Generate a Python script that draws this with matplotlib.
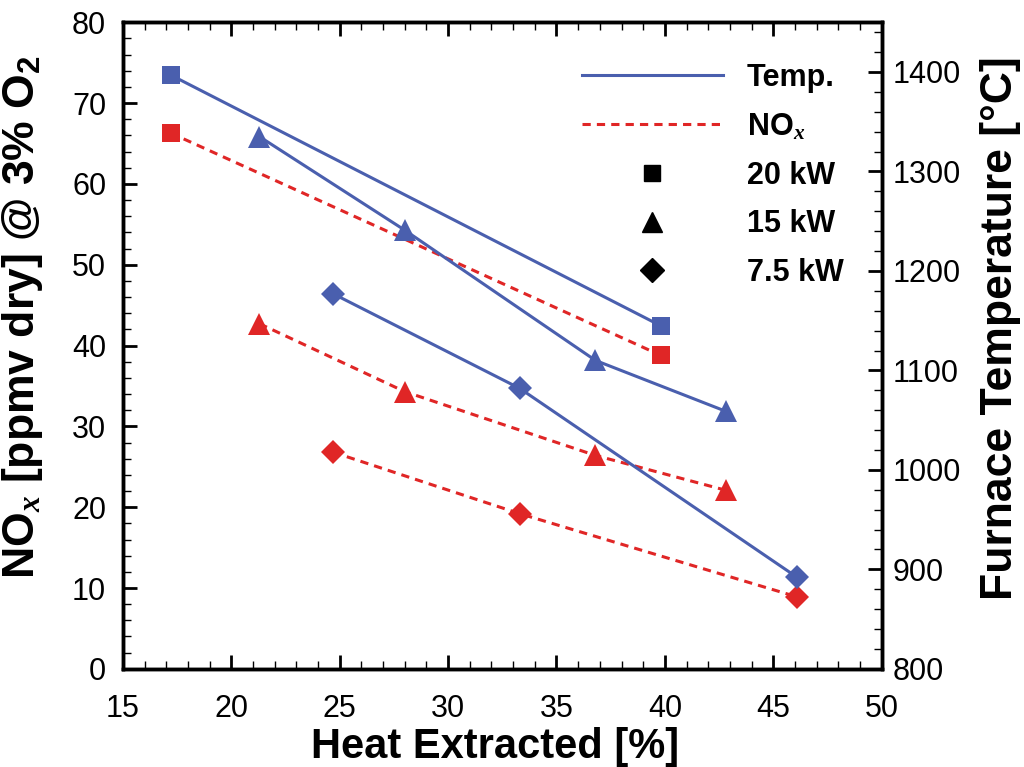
import matplotlib
matplotlib.use("Agg")
import matplotlib.pyplot as plt
from matplotlib.lines import Line2D
from matplotlib.ticker import MultipleLocator

plt.rcParams['font.family'] = ['Liberation Sans', 'DejaVu Sans']
plt.rcParams['mathtext.fontset'] = 'custom'
plt.rcParams['mathtext.rm'] = 'Liberation Serif'
plt.rcParams['mathtext.it'] = 'Liberation Serif:italic:bold'
plt.rcParams['mathtext.bf'] = 'Liberation Sans:bold'

# Data
x_20 = [17.2, 39.8]
temp_20 = [1397, 1145]
nox_20 = [66.3, 38.8]

x_15 = [21.3, 28.0, 36.8, 42.8]
temp_15 = [1335, 1241, 1110, 1059]
nox_15 = [42.7, 34.3, 26.4, 22.1]

x_75 = [24.7, 33.3, 46.1]
temp_75 = [1177, 1082, 892]
nox_75 = [26.8, 19.2, 8.9]

BLUE = '#4a5fae'
RED = '#e02626'
DASH = (0, (2.7, 2.0))

fig = plt.figure(figsize=(10.24, 7.67), dpi=100)
ax = fig.add_axes([0.120, 0.128, 0.741, 0.843])
ax2 = ax.twinx()

lw = 2.2
ax.plot(x_20, nox_20, color=RED, ls=DASH, lw=lw, marker='s', ms=13, mew=0)
ax.plot(x_15, nox_15, color=RED, ls=DASH, lw=lw, marker='^', ms=16, mew=0)
ax.plot(x_75, nox_75, color=RED, ls=DASH, lw=lw, marker='D', ms=12.5, mew=0)
ax2.plot(x_20, temp_20, color=BLUE, ls='-', lw=lw, marker='s', ms=13, mew=0)
ax2.plot(x_15, temp_15, color=BLUE, ls='-', lw=lw, marker='^', ms=16, mew=0)
ax2.plot(x_75, temp_75, color=BLUE, ls='-', lw=lw, marker='D', ms=12.5, mew=0)

ax.set_xlim(15, 50)
ax.set_ylim(0, 80)
ax2.set_ylim(800, 1450)

ax.xaxis.set_major_locator(MultipleLocator(5))
ax.xaxis.set_minor_locator(MultipleLocator(1))
ax.yaxis.set_major_locator(MultipleLocator(10))
ax.yaxis.set_minor_locator(MultipleLocator(2))
ax2.yaxis.set_major_locator(MultipleLocator(100))
ax2.yaxis.set_minor_locator(MultipleLocator(20))

ax.tick_params(axis='x', which='both', direction='in', top=True, bottom=True, labelsize=22, pad=18)
ax.tick_params(axis='y', which='both', direction='in', left=True, right=False, labelsize=22, pad=12)
ax2.tick_params(axis='y', which='both', direction='in', right=True, labelsize=22, pad=8)
for a in (ax, ax2):
    a.tick_params(which='major', length=10, width=2)
    a.tick_params(which='minor', length=5.5, width=1)
for a in (ax, ax2):
    for s in a.spines.values():
        s.set_linewidth(2.5)

ax.set_xlabel('Heat Extracted [%]', fontsize=30, fontweight='bold')
ax.set_ylabel(r'NO$_{\mathit{x}}$ [ppmv dry] @ 3% O$_{\mathbf{2}}$', fontsize=32, fontweight='bold')
ax2.set_ylabel('Furnace Temperature [°C]', fontsize=32, fontweight='bold')
ax.xaxis.set_label_coords(0.49, -0.09)
ax.yaxis.set_label_coords(-0.103, 0.544)
ax2.yaxis.set_label_coords(1.129, 0.527)

handles = [
    Line2D([], [], color=BLUE, lw=lw, ls='-'),
    Line2D([], [], color=RED, lw=lw, ls=DASH),
    Line2D([], [], color='black', ls='none', marker='s', ms=12),
    Line2D([], [], color='black', ls='none', marker='^', ms=14),
    Line2D([], [], color='black', ls='none', marker='D', ms=12),
]
labels = ['Temp.', r'NO$_{\mathit{x}}$', '20 kW', '15 kW', '7.5 kW']
leg = ax2.legend(handles, labels, loc='upper right', bbox_to_anchor=(0.95, 0.937),
                 frameon=False, handlelength=4.6, handletextpad=0.8, labelspacing=0.61,
                 borderpad=0, borderaxespad=0,
                 prop={'weight': 'bold', 'size': 22})

fig.savefig('out.png', dpi=100)
